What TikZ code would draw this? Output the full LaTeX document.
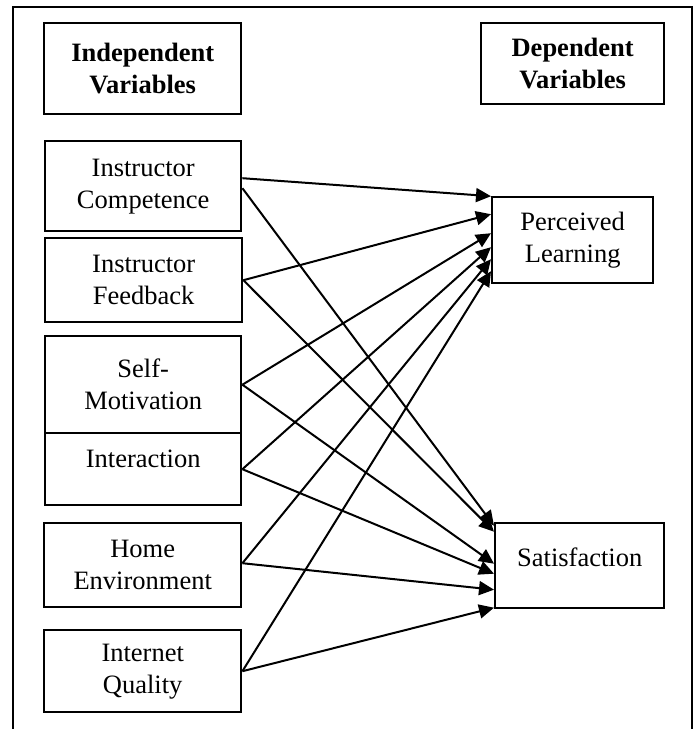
\documentclass[tikz,border=0pt]{standalone}
\usepackage{fontspec}
\setmainfont{Liberation Serif}
\usetikzlibrary{arrows.meta}
\tikzset{
  vbox/.style={draw, line width=2.4pt, anchor=north west, inner sep=0pt, align=center,
    font=\fontsize{26.5}{32}\selectfont},
  hbox/.style={vbox, font=\fontsize{26.5}{32}\selectfont\bfseries},
  conn/.style={line width=2pt, -{Triangle[length=15pt,width=14pt]}}
}
\begin{document}
\begin{tikzpicture}[x=1pt,y=-1pt]
\useasboundingbox (0,0) rectangle (696,729);
% outer frame
\draw[line width=2pt] (13,729) -- (13,7) -- (692,7) -- (692,729);
% headers
\node[hbox, minimum width=197pt, minimum height=91pt] (ivh) at (43,22) {Independent\\Variables};
\node[hbox, minimum width=183pt, minimum height=81pt] (dvh) at (480,22) {Dependent\\Variables};
% independent variables
\node[vbox, minimum width=196pt, minimum height=90pt] (ic) at (44,140) {Instructor\\Competence};
\node[vbox, minimum width=197pt, minimum height=84pt] (if) at (44,237) {Instructor\\Feedback};
\node[vbox, minimum width=196pt, minimum height=97pt] (sm) at (44,335) {Self-\\Motivation};
\node[vbox, minimum width=196pt, minimum height=72pt] (in) at (44,432) {\raisebox{20pt}{Interaction}};
\node[vbox, minimum width=197pt, minimum height=84pt] (he) at (43,522) {Home\\Environment};
\node[vbox, minimum width=197pt, minimum height=82pt] (iq) at (43,629) {Internet\\Quality};
% dependent variables
\node[vbox, minimum width=161pt, minimum height=86pt] (pl) at (491,196) {Perceived\\Learning};
\node[vbox, minimum width=169pt, minimum height=85pt] (sa) at (494,522) {\raisebox{18pt}{Satisfaction}};
% connectors to Perceived Learning
\draw[conn] ([yshift=8pt]ic.east) -- ([yshift=44pt]pl.west);
\draw[conn] (if.east) -- ([yshift=26pt]pl.west);
\draw[conn] (sm.east) -- ([yshift=7pt]pl.west);
\draw[conn] (in.east) -- ([yshift=-7pt]pl.west);
\draw[conn] ([yshift=2pt]he.east) -- ([yshift=-19pt]pl.west);
\draw[conn] (iq.east) -- ([yshift=-31pt]pl.west);
% connectors to Satisfaction
\draw[conn] ([yshift=-2pt]ic.east) -- ([yshift=40pt]sa.west);
\draw[conn] (if.east) -- ([yshift=34pt]sa.west);
\draw[conn] (sm.east) -- ([yshift=2pt]sa.west);
\draw[conn] (in.east) -- ([yshift=-8pt]sa.west);
\draw[conn] ([yshift=2pt]he.east) -- ([yshift=-24pt]sa.west);
\draw[conn] (iq.east) -- ([yshift=-42pt]sa.west);
\end{tikzpicture}
\end{document}
